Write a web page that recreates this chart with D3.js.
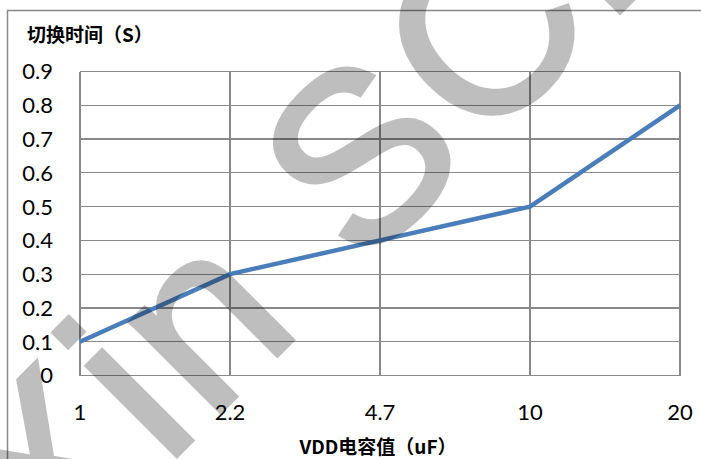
<!DOCTYPE html>
<html>
<head>
  <title>VDD电容值 vs 切换时间</title>
  <script src="https://d3js.org/d3.v7.min.js"></script>
  <style>
    body { margin: 0; background: #fff; }
    .grid line { stroke: #898989; stroke-width: 1.2px; shape-rendering: crispEdges; }
    .tick-label { font-family: Lato, "Open Sans", sans-serif; font-size: 22px; fill: #000; }
    .axis-title { font-family: "Noto Sans CJK SC", sans-serif; font-size: 19px; font-weight: bold; fill: #000; }
  </style>
</head>
<body>
  <svg id="chart"></svg>
  <script>
    // data
    const categories = ["1", "2.2", "4.7", "10", "20"];
    const switchTime = [0.1, 0.3, 0.4, 0.5, 0.8];
    const yTicks = [0, 0.1, 0.2, 0.3, 0.4, 0.5, 0.6, 0.7, 0.8, 0.9];

    const width = 701;
    const height = 459;

    const svg = d3.select("#chart")
                  .attr("width", width)
                  .attr("height", height);

    // outer chart frame (cropped on right and bottom)
    svg.append("rect")
       .attr("x", 7.5).attr("y", 10.5)
       .attr("width", 900).attr("height", 900)
       .attr("fill", "#fff")
       .attr("stroke", "#898989")
       .attr("stroke-width", 1.5);

    const xScale = d3.scalePoint()
                     .domain(categories)
                     .range([80, 680]);

    const yScale = d3.scaleLinear()
                     .domain([0, 0.9])
                     .range([375.5, 71.5]);

    // horizontal grid
    const grid = svg.append("g").attr("class", "grid");
    grid.selectAll(".h")
        .data(yTicks)
        .enter()
        .append("line")
        .attr("class", "h")
        .attr("x1", xScale.range()[0])
        .attr("x2", xScale.range()[1])
        .attr("y1", d => yScale(d))
        .attr("y2", d => yScale(d));

    // vertical grid at each category
    grid.selectAll(".v")
        .data(categories)
        .enter()
        .append("line")
        .attr("class", "v")
        .attr("x1", d => xScale(d))
        .attr("x2", d => xScale(d))
        .attr("y1", yScale(0))
        .attr("y2", yScale(0.9));

    // y tick labels
    svg.append("g")
       .selectAll("text")
       .data(yTicks)
       .enter()
       .append("text")
       .attr("class", "tick-label")
       .attr("x", 53)
       .attr("y", d => yScale(d))
       .attr("dy", "0.36em")
       .attr("text-anchor", "end")
       .text(d => d3.format("")(+d.toFixed(1)));

    // x tick labels
    svg.append("g")
       .selectAll("text")
       .data(categories)
       .enter()
       .append("text")
       .attr("class", "tick-label")
       .attr("x", d => xScale(d))
       .attr("y", 420)
       .attr("text-anchor", "middle")
       .text(d => d);

    // the line
    const line = d3.line()
                   .x((d, i) => xScale(categories[i]))
                   .y(d => yScale(d));

    svg.append("path")
       .datum(switchTime)
       .attr("d", line)
       .attr("fill", "none")
       .attr("stroke", "#4a7ebb")
       .attr("stroke-width", 4.5)
       .attr("stroke-linejoin", "miter");

    // axis titles
    svg.append("text")
       .attr("class", "axis-title")
       .attr("x", 27)
       .attr("y", 35)
       .attr("dy", "0.35em")
       .text("切换时间（S）");

    svg.append("text")
       .attr("class", "axis-title")
       .attr("x", 378)
       .attr("y", 447)
       .attr("dy", "0.35em")
       .attr("text-anchor", "middle")
       .text("VDD电容值（uF）");

    // watermark (semi-transparent, drawn over the chart)
    svg.append("g")
       .attr("opacity", 0.25)
       .append("text")
       .attr("transform", "rotate(-45)")
       .attr("x", -381)
       .attr("y", 447)
       .attr("font-family", "Liberation Sans, Arial, sans-serif")
       .attr("font-size", 240)
       .attr("letter-spacing", 8)
       .attr("fill", "#000")
       .attr("stroke", "#000")
       .attr("stroke-width", 5)
       .attr("stroke-linejoin", "miter")
       .text("Xin SCi");
  </script>
</body>
</html>
